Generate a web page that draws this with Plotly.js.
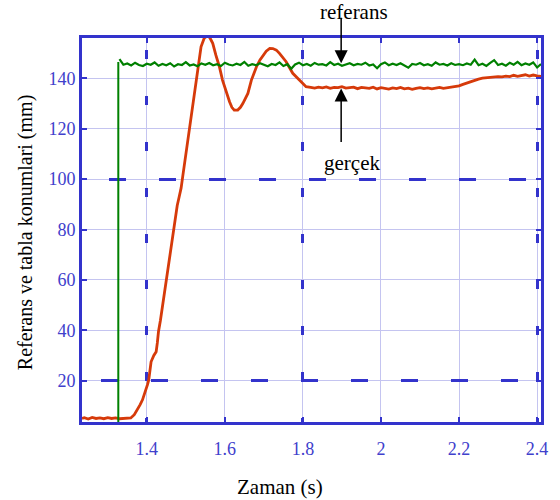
<!DOCTYPE html>
<html>
<head>
<meta charset="utf-8">
<script src="https://cdn.plot.ly/plotly-3.0.1.min.js"></script>
<style>html,body{margin:0;padding:0;background:#fff;}#chart{width:560px;height:500px;}</style>
</head>
<body>
<div id="chart"></div>
<script>
// ---- data ----
var xTickVals = [1.4, 1.6, 1.8, 2, 2.2, 2.4];
var xTickText = ['1.4', '1.6', '1.8', '2', '2.2', '2.4'];
var yTickVals = [20, 40, 60, 80, 100, 120, 140];
var yTickText = ['20', '40', '60', '80', '100', '120', '140'];
var xMajorDash = [1.4, 1.8, 2.4];
var yMajorDashLow = [20];
var yMajorDashHigh = [100];

// reference step (vertical part)
var refStepX = [1.327, 1.327];
var refStepY = [0, 146.5];
// reference after the step, sampled every 0.01 s from 1.33 s
var refStart = 1.33;
var refStep = 0.01;
var refY = [
147.6,145.4,145.9,145.1,146.2,145.3,144.9,145.8,145.4,146.3,
145.0,145.7,145.2,146.0,144.7,145.6,145.3,146.4,145.1,145.5,
144.8,145.9,145.4,146.1,145.2,145.6,144.9,146.2,145.5,145.1,
145.8,145.3,146.5,145.0,145.6,145.2,146.0,145.4,144.8,145.7,
145.3,146.3,144.9,145.6,143.8,145.5,146.2,145.2,145.7,145.0,
146.1,145.4,145.6,145.1,146.4,145.3,145.8,145.0,145.6,146.0,
145.2,145.7,145.4,146.2,145.1,145.5,144.0,145.6,146.3,145.2,
145.8,145.3,146.0,145.1,144.2,145.7,145.4,146.1,145.2,145.6,
145.0,146.3,145.4,145.7,145.1,146.0,145.3,145.6,145.2,145.9,
145.4,147.4,145.2,145.8,144.9,146.1,147.2,145.3,145.8,145.0,
146.2,145.4,146.5,145.2,145.9,145.4,146.3,144.3,145.7
];

// actual (gerçek) position
var actX = [
1.234,1.24,1.25,1.26,1.27,1.28,1.29,1.30,1.31,1.32,
1.33,1.34,1.35,1.359,1.368,1.376,1.383,1.389,1.394,1.398,
1.402,1.405,1.408,1.411,1.418,1.424,1.427,1.430,1.435,1.440,
1.445,1.449,1.455,1.460,1.464,1.468,1.474,1.478,1.483,1.488,
1.492,1.500,1.509,1.515,1.522,1.526,1.532,1.539,1.547,1.556,
1.562,1.569,1.577,1.586,1.594,1.603,1.612,1.618,1.624,1.633,
1.640,1.646,1.659,1.668,1.681,1.690,1.698,1.706,1.715,1.723,
1.732,1.740,1.757,1.774,1.791,1.808,
1.82,1.83,1.84,1.85,1.86,1.87,1.88,1.89,1.90,1.91,
1.92,1.93,1.94,1.95,1.96,1.97,1.98,1.99,2.00,2.01,
2.02,2.03,2.04,2.05,2.06,2.07,2.08,2.09,2.10,2.11,
2.12,2.13,2.14,2.15,2.16,2.17,2.18,2.19,
2.20,2.21,2.22,2.23,2.24,2.25,2.26,2.27,2.28,2.29,
2.30,2.31,2.32,2.33,2.34,2.35,2.36,2.37,2.38,2.39,
2.40,2.41
];
var actY = [
5.0,5.3,4.8,5.4,5.0,5.2,4.9,5.3,5.0,5.2,
4.9,5.1,5.3,5.2,6.5,8.5,10.5,12.4,14.5,16.3,
18.5,20.3,24.0,27.5,30.0,31.5,35.0,39.5,44.0,49.4,
55.0,60.0,66.0,71.2,76.0,79.8,86.4,89.5,93.0,96.5,
101.0,110.0,119.0,126.0,132.7,139.0,146.0,152.5,155.9,157.0,
156.0,153.9,149.2,144.6,139.3,134.7,130.7,128.5,127.4,127.4,
128.5,130.0,134.0,139.3,144.6,147.3,149.2,150.8,151.9,151.8,
151.2,149.9,146.6,142.0,139.3,136.7,
136.4,136.1,136.5,136.2,136.6,136.0,136.4,136.3,136.7,136.1,
136.3,136.5,135.9,136.4,136.2,136.0,136.5,135.8,136.3,136.1,
135.7,136.2,135.9,136.4,135.8,136.1,135.6,136.0,136.3,135.9,
136.2,135.8,136.1,136.4,136.0,136.3,136.5,136.6,
137.0,137.6,138.2,138.8,139.3,139.7,140.1,140.3,140.5,140.4,
140.7,140.6,140.9,140.7,141.2,140.8,141.0,141.4,140.9,141.3,
141.0,140.8
];

var xRange = [1.234, 2.41];
var yRange = [3.6, 156];

// ---- styles ----
var BLUE = '#3333cc';
var TICKBLUE = '#4040cc';
var LIGHTGRID = '#c4c4f0';
var SERIF = 'Liberation Serif';

var traces = [
  {x: actX, y: actY, type: 'scatter', mode: 'lines', xaxis: 'x', yaxis: 'y',
   line: {color: 'rgb(214,58,10)', width: 2.8}, hoverinfo: 'skip', showlegend: false},
  {x: refStepX, y: refStepY, type: 'scatter', mode: 'lines', xaxis: 'x2', yaxis: 'y2',
   line: {color: 'rgb(0,128,0)', width: 2}, hoverinfo: 'skip', showlegend: false},
  {x0: refStart, dx: refStep, y: refY, type: 'scatter', mode: 'lines', xaxis: 'x', yaxis: 'y3',
   line: {color: 'rgb(0,128,0)', width: 2.2}, hoverinfo: 'skip', showlegend: false}
];

function baseAxis(extra) {
  var a = {
    showline: true, linecolor: BLUE, linewidth: 3, mirror: 'ticks',
    ticks: 'inside', ticklen: 5, tickwidth: 2, tickcolor: BLUE,
    showgrid: true, gridcolor: LIGHTGRID, gridwidth: 1, zeroline: false,
    tickfont: {family: SERIF, size: 18, color: TICKBLUE}, tickmode: 'array'
  };
  for (var k in extra) a[k] = extra[k];
  return a;
}
function dashAxis(extra) {
  var a = {
    showgrid: true, gridcolor: BLUE, gridwidth: 3, zeroline: false,
    showline: false, ticks: '', showticklabels: false, tickmode: 'array'
  };
  for (var k in extra) a[k] = extra[k];
  return a;
}

var layout = {
  width: 560, height: 500,
  margin: {l: 82, r: 19, t: 38, b: 78, pad: 0},
  paper_bgcolor: '#ffffff', plot_bgcolor: '#ffffff',
  showlegend: false,
  font: {family: SERIF},
  xaxis: baseAxis({range: xRange, tickvals: xTickVals, ticktext: xTickText, ticklabelstandoff: 8}),
  yaxis: baseAxis({range: yRange, tickvals: yTickVals, ticktext: yTickText}),
  xaxis2: dashAxis({range: xRange, overlaying: 'x', anchor: 'y2', tickvals: xMajorDash, griddash: '0px,12px,9px,25px'}),
  yaxis2: dashAxis({range: yRange, overlaying: 'y', anchor: 'x2', tickvals: yMajorDashLow, griddash: '0px,19px,17px,14px'}),
  yaxis3: dashAxis({range: yRange, overlaying: 'y', anchor: 'x', tickvals: yMajorDashHigh, griddash: '0px,27px,17px,6px'}),
  annotations: [
    {text: 'referans', xref: 'x', yref: 'paper', x: 1.932, y: 1.0677, xanchor: 'center', yanchor: 'middle',
     showarrow: false, font: {family: SERIF, size: 21, color: '#000'}},
    {text: '', xref: 'x', yref: 'y', x: 1.898, y: 145.96, ax: 0, ay: -47, showarrow: true,
     arrowhead: 2, arrowsize: 1.75, arrowwidth: 1.5, arrowcolor: '#000'},
    {text: 'gerçek', xref: 'x', yref: 'y', x: 1.927, y: 106.4, xanchor: 'center', yanchor: 'middle',
     showarrow: false, font: {family: SERIF, size: 21, color: '#000'}},
    {text: '', xref: 'x', yref: 'y', x: 1.898, y: 136.0, ax: 0, ay: 55, showarrow: true,
     arrowhead: 2, arrowsize: 1.75, arrowwidth: 1.5, arrowcolor: '#000'},
    {text: 'Zaman (s)', xref: 'paper', yref: 'paper', x: 0.431, y: -0.169, xanchor: 'center', yanchor: 'middle',
     showarrow: false, font: {family: SERIF, size: 21, color: '#000'}},
    {text: 'Referans ve tabla konumlari (mm)', xref: 'paper', yref: 'paper', x: -0.124, y: 0.492,
     xanchor: 'center', yanchor: 'middle',
     textangle: -90, showarrow: false, font: {family: SERIF, size: 20, color: '#000'}}
  ]
};

Plotly.newPlot('chart', traces, layout, {staticPlot: true, displayModeBar: false});
</script>
</body>
</html>
